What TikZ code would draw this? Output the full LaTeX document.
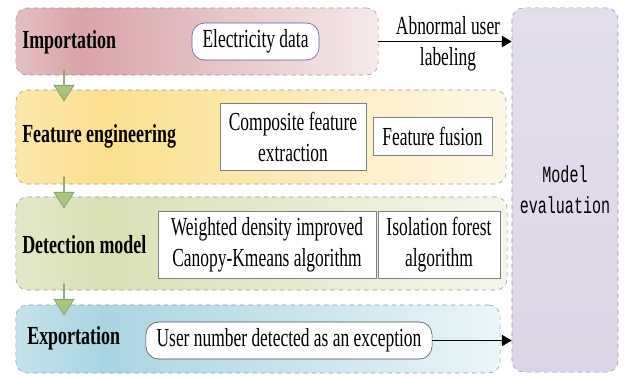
\documentclass[tikz,border=0pt]{standalone}
\usepackage{fontspec}
\setmainfont{Liberation Serif}[FakeStretch=0.67]
\setmonofont{Liberation Mono}[FakeStretch=0.65]
\newfontfamily\headfont{Liberation Serif}[FakeStretch=0.69]
\usetikzlibrary{arrows, arrows.meta, positioning, shapes.arrows}
\tikzset{
    %Define standard arrow tip
    >={Triangle[length=7pt, width=8pt]},
}
\newcommand\bandfont{\fontsize{18.5}{22}\selectfont}

\definecolor{impA}{HTML}{E6BFC2}
\definecolor{impB}{HTML}{DAA3A8}
\definecolor{impC}{HTML}{F6EAEB}
\definecolor{featA}{HTML}{FDE8AC}
\definecolor{featB}{HTML}{FCE08E}
\definecolor{featC}{HTML}{FDF7E6}
\definecolor{detA}{HTML}{E3E9C8}
\definecolor{detB}{HTML}{D8E1B4}
\definecolor{detC}{HTML}{F4F6EB}
\definecolor{expA}{HTML}{C4E2EB}
\definecolor{expB}{HTML}{A9D5E2}
\definecolor{expC}{HTML}{EAF5F9}
\definecolor{evalA}{HTML}{E3DEEC}
\definecolor{evalB}{HTML}{DCD5E7}
\definecolor{arrowfill}{HTML}{A9C47F}
\definecolor{arrowline}{HTML}{7E9A5A}

% band shadings: slightly lighter at the left edge, darkest near the title
\pgfdeclarehorizontalshading{impshade}{100bp}{color(0bp)=(impA); color(25bp)=(impA);
  color(34bp)=(impB); color(75bp)=(impC); color(100bp)=(impC)}
\pgfdeclarehorizontalshading{featshade}{100bp}{color(0bp)=(featA); color(25bp)=(featA);
  color(34bp)=(featB); color(75bp)=(featC); color(100bp)=(featC)}
\pgfdeclarehorizontalshading{detshade}{100bp}{color(0bp)=(detA); color(25bp)=(detA);
  color(34bp)=(detB); color(75bp)=(detC); color(100bp)=(detC)}
\pgfdeclarehorizontalshading{expshade}{100bp}{color(0bp)=(expA); color(25bp)=(expA);
  color(34bp)=(expB); color(75bp)=(expC); color(100bp)=(expC)}

\begin{document}
\begin{tikzpicture}[x=0.025cm, y=-0.025cm,
    band/.style = {draw=gray!80, dashed, rounded corners=8pt, inner sep=0pt},
    title/.style = {anchor=west, inner sep=0pt, font=\bandfont\headfont\bfseries},
    box/.style = {draw=gray, fill=white, align=center, inner sep=0pt,
                  font=\bandfont},
    rbox/.style = {box, rounded corners=9pt},
    down/.style = {single arrow, draw=arrowline, fill=arrowfill, rotate=-90,
                   minimum height=0.775cm, minimum width=0.5cm, inner sep=0pt,
                   single arrow head extend=0.125cm, single arrow tip angle=65},
  ]
  \useasboundingbox (0,0) rectangle (624,376);

  \node[band, shading=impshade, minimum width=9.05cm, minimum height=1.675cm]
    (imp) at (197,41.5) {};
  \node[band, shading=featshade, minimum width=12.25cm, minimum height=2.35cm]
    (feat) at (261,137) {};
  \node[band, shading=detshade, minimum width=12.275cm, minimum height=2.325cm]
    (det) at (261.5,243.5) {};
  \node[band, shading=expshade, minimum width=12.1cm, minimum height=1.7cm]
    (exp) at (258,339) {};
  \node[band, top color=evalA, bottom color=evalB, minimum width=2.65cm,
        minimum height=9.1cm, align=center,
        font=\ttfamily\fontsize{16.5}{22}\selectfont]
    (eval) at (565,190) {Model\\evaluation};

  \node[title] (imp-title) at (22,42) {Importation};
  \node[title] (feat-title) at (22,136) {Feature engineering};
  \node[title] (det-title) at (22,245) {Detection model};
  \node[title] (exp-title) at (27,338) {Exportation};

  \node[rbox, draw=gray!70!blue, minimum width=3.175cm, minimum height=0.925cm]
    (elec) at (255.5,41.5) {Electricity data};
  \node[box, minimum width=3.65cm, minimum height=1.675cm]
    (comp) at (293,136.5) {Composite feature\\extraction};
  \node[box, minimum width=2.975cm, minimum height=0.95cm]
    (fusion) at (432.5,136) {Feature fusion};
  \node[box, minimum width=5.45cm, minimum height=1.675cm]
    (canopy) at (267,244.5) {Weighted density improved\\Canopy-Kmeans algorithm};
  \node[box, minimum width=3.05cm, minimum height=1.675cm]
    (iforest) at (439,244.5) {Isolation forest\\algorithm};
  \node[rbox, draw=gray!60!black, minimum width=7.15cm, minimum height=0.925cm]
    (user) at (289,340.5) {User number detected as an exception};

  %block arrows between the stages
  \node[down] (step1) at (64,85) {};
  \node[down] (step2) at (64,192) {};
  \node[down] (step3) at (64,299) {};

  \node[align=center, font=\bandfont, inner sep=0pt] (label) at (448,44)
    {Abnormal user\\labeling};
  \draw[->, line width=1pt] (imp.east) -- (imp.east -| eval.west);
  \draw[->, line width=1pt] (user.east) -- (user.east -| eval.west);
\end{tikzpicture}
\end{document}
